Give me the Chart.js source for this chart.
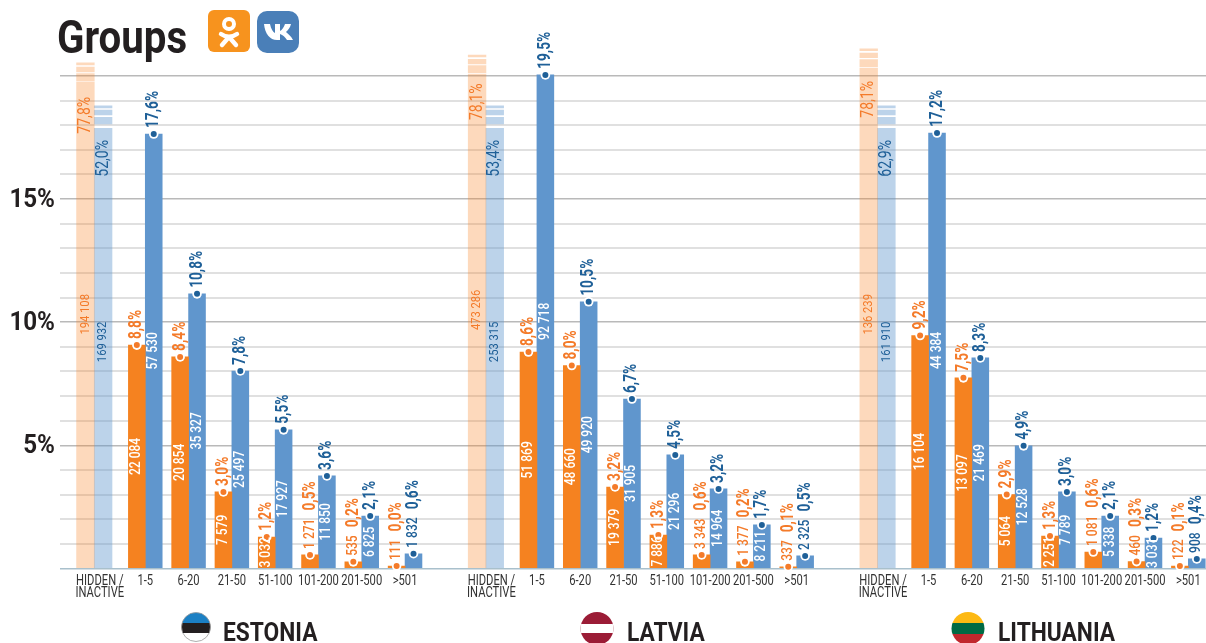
<!DOCTYPE html>
<html><head><meta charset="utf-8">
<script src="https://cdn.jsdelivr.net/npm/chart.js@4"></script>
<style>
html,body{margin:0;padding:0;background:#fff;overflow:hidden}
#wrap{position:relative;width:1206px;height:643px;overflow:hidden}
canvas{position:absolute;left:0;top:0}
.t{position:absolute;font-family:Roboto,sans-serif;font-weight:700;color:#231f20;white-space:nowrap;line-height:1;transform:scaleX(.875);transform-origin:0 0}
svg{position:absolute}
</style></head><body>
<div id="wrap">
<canvas id="c" width="1206" height="643"></canvas>
<div class="t" style="left:57px;top:14px;font-size:46px">Groups</div>
<svg style="left:208px;top:10px" width="42" height="42" viewBox="0 0 42 42"><rect width="42" height="42" rx="6" fill="#f7931e"/><circle cx="21" cy="14" r="5" fill="none" stroke="#fff" stroke-width="4"/><path d="M13 24c5 3.5 11 3.5 16 0M21 27l-7 8M21 27l7 8" fill="none" stroke="#fff" stroke-width="4.4" stroke-linecap="round"/></svg>
<svg style="left:257px;top:11px" width="42" height="42" viewBox="0 0 42 42"><rect width="42" height="42" rx="10" fill="#4a7fb8"/><path d="M7 13h6c1 5 3 8 5 9v-9h5v7c2-1 4-4 5-7h6c-1 4-3 6-5 8c2 2 5 4 7 8h-6c-2-3-4-5-7-6v6h-3C13 29 8 23 7 13z" fill="#fff"/></svg>
<svg style="left:180px;top:611px" width="32" height="32" viewBox="0 0 32 32"><clipPath id="e"><circle cx="16" cy="16" r="14.5"/></clipPath><g clip-path="url(#e)"><rect width="32" height="12" fill="#1b80c4"/><rect y="12" width="32" height="10" fill="#231f20"/><rect y="22" width="32" height="10" fill="#fff"/></g><circle cx="16" cy="16" r="14.5" fill="none" stroke="#999" stroke-width=".8"/></svg>
<svg style="left:580px;top:610px" width="34" height="33" viewBox="0 0 34 33"><clipPath id="l"><circle cx="17" cy="18.5" r="16.5"/></clipPath><g clip-path="url(#l)"><rect width="34" height="33" fill="#9b1c36"/><rect y="14" width="34" height="9" fill="#fff"/></g></svg>
<svg style="left:951px;top:610px" width="34" height="33" viewBox="0 0 34 33"><clipPath id="i"><circle cx="17" cy="18.5" r="16.5"/></clipPath><g clip-path="url(#i)"><rect width="34" height="13" fill="#fdb913"/><rect y="13" width="34" height="11" fill="#006a44"/><rect y="24" width="34" height="9" fill="#c1272d"/></g></svg>
<div class="t" style="left:223px;top:619px;font-size:26px">ESTONIA</div>
<div class="t" style="left:627px;top:619px;font-size:26px">LATVIA</div>
<div class="t" style="left:998px;top:619px;font-size:26px">LITHUANIA</div>
</div>
<script>
const categories = ['1-5','6-20','21-50','51-100','101-200','201-500','>501'];
const hiddenLabel = ['HIDDEN /','INACTIVE'];
const okHeights = [
  [9.07,8.59,3.11,1.28,0.55,0.27,0.10],
  [8.79,8.24,3.31,1.36,0.55,0.27,0.07],
  [9.46,7.74,3.00,1.32,0.67,0.28,0.10]];
const vkHeights = [
  [17.64,11.15,8.02,5.63,3.76,2.13,0.60],
  [20.04,10.83,6.88,4.61,3.23,1.77,0.51],
  [17.68,8.55,4.98,3.11,2.13,1.24,0.39]];
const okPct = [
  ['8,8%','8,4%','3,0%','1,2%','0,5%','0,2%','0,0%'],
  ['8,6%','8,0%','3,2%','1,3%','0,6%','0,2%','0,1%'],
  ['9,2%','7,5%','2,9%','1,3%','0,6%','0,3%','0,1%']];
const vkPct = [
  ['17,6%','10,8%','7,8%','5,5%','3,6%','2,1%','0,6%'],
  ['19,5%','10,5%','6,7%','4,5%','3,2%','1,7%','0,5%'],
  ['17,2%','8,3%','4,9%','3,0%','2,1%','1,2%','0,4%']];
const okCount = [
  ['22 084','20 854','7 579','3 032','1 271','535','111'],
  ['51 869','48 660','19 379','7 886','3 343','1 377','337'],
  ['16 104','13 097','5 064','2 251','1 081','460','122']];
const vkCount = [
  ['57 530','35 327','25 497','17 927','11 850','6 825','1 832'],
  ['92 718','49 920','31 905','21 296','14 964','8 211','2 325'],
  ['44 384','21 469','12 528','7 789','5 338','3 031','908']];
const hiddenOkPct = ['77,8%','78,1%','78,1%'];
const hiddenVkPct = ['52,0%','53,4%','62,9%'];
const hiddenOkCount = ['194 108','473 286','136 239'];
const hiddenVkCount = ['169 932','253 315','161 910'];
// the hidden bars run off the scale: visible height of each cut bar, in axis %
const hiddenOkTop = [20.53,20.85,21.1];
const hiddenVkTop = [18.78,18.78,18.78];
const hiddenOkPctAt = [18.4,18.95,19.05];
const hiddenOkCountAt = [10.32,10.5,10.32];
const groupStep = 9.046, hiddenSlot = -1.178;
const slot = (g,c)=>g*groupStep+c;
const hSlot = g=>g*groupStep+hiddenSlot;
const G=[0,1,2];
const ORANGE='#f58220', BLUE='#6096cd', ORANGE_L='rgba(247,130,33,0.3)', BLUE_L='rgba(96,150,205,0.42)';
const ORANGE_T='#f47b2a', BLUE_T='#1f6098';
const FONT='Roboto,sans-serif';
const main=(arr,color,stack,lbl)=>({label:lbl,stack,backgroundColor:color,barThickness:16.9,
  data:arr.flatMap((r,g)=>r.map((v,c)=>({x:slot(g,c),y:v})))});
const piece=(tops,from,to,color,stack)=>({stack,backgroundColor:color,barThickness:17.7,
  data:G.map(g=>({x:hSlot(g),y:[tops[g]+from,tops[g]+to]}))});
const base=(tops,to,color,stack)=>({stack,backgroundColor:color,barThickness:17.7,
  data:G.map(g=>({x:hSlot(g),y:[0,tops[g]+to]}))});
const labels={id:'labels',afterDatasetsDraw(ch){
  const c=ch.ctx;
  const put=(txt,x,y,font,sx,color,align,rotated)=>{c.save();c.translate(x,y);if(rotated)c.rotate(-Math.PI/2);c.scale(sx,1);c.font=font;c.fillStyle=color;c.textAlign=align;c.textBaseline='middle';c.fillText(txt,0,0);c.restore();};
  const len=(txt,font,sx)=>{c.save();c.font=font;const w=c.measureText(txt).width*sx;c.restore();return w;};
  const F_C='500 14px '+FONT,S_C=.86,F_P='700 18px '+FONT,S_P=.76;
  const draw=(ds,pct,cnt,tcolor)=>{
    ch.getDatasetMeta(ds).data.forEach((b,i)=>{
      const g=Math.floor(i/7),k=i%7,h=b.base-b.y;
      c.beginPath();c.arc(b.x,b.y,4.8,0,7);c.fillStyle='#fff';c.fill();
      c.beginPath();c.arc(b.x,b.y,3,0,7);c.fillStyle=tcolor;c.fill();
      let y=b.y-6;
      if(h>=25){put(cnt[g][k],b.x,(b.y+b.base)/2,F_C,S_C,'#fff','center',true);}
      else{put(cnt[g][k],b.x,y,F_C,S_C,tcolor,'left',true);y-=len(cnt[g][k],F_C,S_C)+8;}
      put(pct[g][k],b.x,y,F_P,S_P,tcolor,'left',true);
    });
  };
  draw(0,okPct,okCount,ORANGE_T);
  draw(1,vkPct,vkCount,BLUE_T);
  const ys=ch.scales.y,xs=ch.scales.x;
  G.forEach(g=>{
    const xo=xs.getPixelForValue(hSlot(g))-8.8,xb=xs.getPixelForValue(hSlot(g))+8.8;
    put(hiddenOkPct[g],xo,ys.getPixelForValue(hiddenOkPctAt[g]),'400 18px '+FONT,.78,ORANGE_T,'center',true);
    put(hiddenVkPct[g],xb,ys.getPixelForValue(16.65),'400 18px '+FONT,.78,BLUE_T,'center',true);
    put(hiddenOkCount[g],xo,ys.getPixelForValue(hiddenOkCountAt[g]),'400 13px '+FONT,.86,ORANGE_T,'center',true);
    put(hiddenVkCount[g],xb,ys.getPixelForValue(9.2),'400 13px '+FONT,.86,BLUE_T,'center',true);
  });
  xs.ticks.forEach((t,i)=>{
    const x=xs.getPixelForTick(i),lines=[].concat(t.label);
    lines.forEach((l,n)=>put(l,x,581+n*12.3,'400 14px '+FONT,.8,'#333','center',false));
  });
  ys.ticks.forEach((t,i)=>{
    if(t.label) put(t.label,55,ys.getPixelForTick(i)+1,'700 26px '+FONT,.93,'#231f20','right',false);
  });
}};
const xTickVals=G.flatMap(g=>[g*groupStep+hiddenSlot+0.127,...categories.map((_,c)=>slot(g,c))]);
const noPad=s=>{s.paddingTop=s.paddingBottom=s.paddingLeft=s.paddingRight=0;};
new Chart(document.getElementById('c'),{
  type:'bar',
  data:{datasets:[
    main(okHeights,ORANGE,'o','OK'),
    main(vkHeights,BLUE,'b','VK'),
    base(hiddenOkTop,-0.785,ORANGE_L,'o'),
    piece(hiddenOkTop,-0.73,-0.435,ORANGE_L,'o'),
    piece(hiddenOkTop,-0.365,-0.175,ORANGE_L,'o'),
    piece(hiddenOkTop,-0.08,0,ORANGE_L,'o'),
    base(hiddenVkTop,-0.905,BLUE_L,'b'),
    piece(hiddenVkTop,-0.73,-0.46,BLUE_L,'b'),
    piece(hiddenVkTop,-0.365,-0.165,BLUE_L,'b'),
    piece(hiddenVkTop,-0.08,0,BLUE_L,'b')
  ]},
  plugins:[labels],
  options:{
    responsive:false,animation:false,
    layout:{padding:{top:2,left:0,right:0,bottom:0}},
    plugins:{legend:{display:false},tooltip:{enabled:false},title:{display:false}},
    scales:{
      x:{type:'linear',min:-1.97,max:24.5,offset:false,
        grid:{display:false},border:{display:false},
        afterFit(s){s.height=74.5;noPad(s);},
        afterBuildTicks(s){s.ticks=xTickVals.map(v=>({value:v}));},
        ticks:{autoSkip:false,maxRotation:0,minRotation:0,color:'rgba(0,0,0,0)',font:{family:FONT,size:12},
          callback(v,i){const k=i%8;return k===0?hiddenLabel:categories[k-1];}}
      },
      y:{min:0,max:23,stacked:false,
        border:{display:false},
        afterFit(s){s.width=60;noPad(s);},
        afterBuildTicks(s){s.ticks=s.ticks.filter(t=>t.value<=20);},
        grid:{drawTicks:false,
          color(c){const v=c.tick.value;return v===0?'#a9c0cc':v%5===0?'#b9b9b9':'#e0e0e0';},
          lineWidth(c){return c.tick.value%5===0?1.5:2;}},
        ticks:{stepSize:1,autoSkip:false,color:'rgba(0,0,0,0)',font:{family:FONT,size:12},
          callback(v){return (v===5||v===10||v===15)?v+'%':'';}}
      }
    }
  }
});
</script>
</body></html>
